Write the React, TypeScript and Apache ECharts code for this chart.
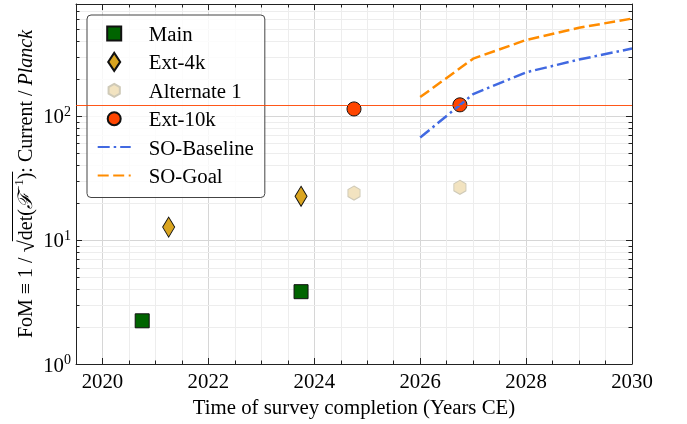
import React, { useEffect, useRef } from 'react';
import * as echarts from 'echarts';

// ---- data ----
const mainYears = [2020.75, 2023.75];
const mainFoM = [2.23, 3.83];
const ext4kYears = [2021.25, 2023.75];
const ext4kFoM = [12.7, 22.5];
const alt1Years = [2024.75, 2026.75];
const alt1FoM = [23.9, 26.6];
const ext10kYears = [2024.75, 2026.75];
const ext10kFoM = [114, 123];
const soYears = [2026, 2027, 2028, 2029, 2030];
const soBaseline = [67, 150, 225, 285, 350];
const soGoal = [142, 290, 410, 515, 610];
const referenceLevel = 123;
const xTickYears = [2020, 2022, 2024, 2026, 2028, 2030];
const yMinorTicks = [2, 3, 4, 5, 6, 7, 8, 9, 20, 30, 40, 50, 60, 70, 80, 90, 200, 300, 400, 500, 600, 700];
const seriesNames = ['Main', 'Ext-4k', 'Alternate 1', 'Ext-10k', 'SO-Baseline', 'SO-Goal'];

const FONT = 'Liberation Serif';
const FS = 20.8;
const X_MIN = 2019.5;
const X_MAX = 2030;
const Y_MIN = 1;
const Y_MAX = 800;

const zip = (xs: number[], ys: number[]) => xs.map((x, i) => [x, ys[i]]);

const hexPath = 'path://M0,-1L0.866,-0.5L0.866,0.5L0,1L-0.866,0.5L-0.866,-0.5Z';
const legendSquare = 'path://M0,0M33,18M9.5,2L23.5,2L23.5,16L9.5,16Z';
const legendDiamond = 'path://M0,0M33,18M16.5,0L22.5,9L16.5,18L10.5,9Z';
const legendHex = 'path://M0,0M33,18M16.5,2.5L22.13,5.75L22.13,12.25L16.5,15.5L10.87,12.25L10.87,5.75Z';
const legendCircle = 'path://M0,0M33,18M10,9A6.5,6.5,0,1,1,23,9A6.5,6.5,0,1,1,10,9Z';

function buildTitle() {
  const canvas = document.createElement('canvas');
  const ctx = canvas.getContext('2d') as CanvasRenderingContext2D;
  const pieces = [
    { t: 'FoM ≡ 1 / ', s: 20, it: false, dy: 0, ob: false },
    { t: '√', s: 22, it: false, dy: 1, ob: false },
    { t: 'det(', s: 20, it: false, dy: 0, ob: true },
    { t: 'ℱ', s: 20, it: true, dy: 0, ob: true },
    { t: '−1', s: 13, it: false, dy: -7, ob: true },
    { t: ')', s: 20, it: false, dy: 0, ob: true },
    { t: ': Current / ', s: 20, it: false, dy: 0, ob: false },
    { t: 'Planck', s: 20, it: true, dy: 0, ob: false },
  ];
  const widths = pieces.map((p) => {
    ctx.font = `${p.it ? 'italic ' : ''}${p.s}px "${FONT}"`;
    return ctx.measureText(p.t).width;
  });
  const total = widths.reduce((a, b) => a + b, 0);
  let cur = -total / 2;
  const children: any[] = [];
  let obStart = Infinity;
  let obEnd = -Infinity;
  pieces.forEach((p, i) => {
    children.push({
      type: 'text',
      x: cur,
      y: p.dy,
      style: {
        text: p.t,
        fontSize: p.s,
        fontFamily: FONT,
        fontStyle: p.it ? 'italic' : 'normal',
        fill: '#000',
        align: 'left',
        verticalAlign: 'middle',
      },
    });
    if (p.ob) {
      obStart = Math.min(obStart, cur);
      obEnd = Math.max(obEnd, cur + widths[i]);
    }
    cur += widths[i];
  });
  children.push({
    type: 'line',
    shape: { x1: obStart - 1, y1: -12.5, x2: obEnd + 1, y2: -12.5 },
    style: { stroke: '#000', lineWidth: 1 },
  });
  return { type: 'group', x: 25, y: 184, rotation: Math.PI / 2, children };
}

export default function App() {
  const ref = useRef<HTMLDivElement>(null);
  useEffect(() => {
    if (!ref.current) return;
    const chart = echarts.init(ref.current, undefined, { renderer: 'svg' });
    const axisLine = { show: true, onZero: false, lineStyle: { color: '#222', width: 1 } };
    const tick = { show: true, inside: true, length: 6, lineStyle: { color: '#222', width: 1 } };
    const minorTick = { show: true, splitNumber: 4, length: 3.5, lineStyle: { color: '#222', width: 1 } };
    const hiddenSymbol = { opacity: 0, borderWidth: 0 };
    const option: any = {
      animation: false,
      textStyle: { fontFamily: FONT },
      grid: { left: 76, right: 55, top: 4, bottom: 60, containLabel: false },
      xAxis: [
        {
          type: 'value', min: X_MIN, max: X_MAX, splitNumber: 5, position: 'bottom',
          axisLine, axisTick: tick, minorTick,
          splitLine: { show: true, lineStyle: { color: '#d6d6d6', width: 1 } },
          minorSplitLine: { show: true, lineStyle: { color: '#ededed', width: 1 } },
          axisLabel: {
            fontSize: FS, color: '#000', fontFamily: FONT, margin: 6,
            formatter: (v: number) => (xTickYears.indexOf(v) >= 0 ? String(v) : ''),
          },
          name: 'Time of survey completion (Years CE)', nameLocation: 'middle', nameGap: 32,
          nameTextStyle: { fontSize: FS, color: '#000', fontFamily: FONT },
        },
        {
          type: 'value', min: X_MIN, max: X_MAX, splitNumber: 5, position: 'top',
          axisLine, axisTick: tick, minorTick,
          splitLine: { show: false }, axisLabel: { show: false },
        },
      ],
      yAxis: [
        {
          type: 'log', logBase: 10, min: Y_MIN, max: Y_MAX, position: 'left',
          axisLine, axisTick: tick,
          splitLine: { show: true, lineStyle: { color: '#d6d6d6', width: 1 } },
          axisLabel: {
            color: '#000', fontSize: FS, fontFamily: FONT, margin: 5,
            formatter: (v: number) => {
              const e = Math.log10(v);
              if (Math.abs(e - Math.round(e)) > 1e-6) return '';
              return `10{sup|${Math.round(e)}}`;
            },
            rich: {
              sup: { fontSize: 14, fontFamily: FONT, color: '#000', verticalAlign: 'bottom', padding: [0, 0, 9, 0] },
            },
          },
        },
        {
          type: 'log', logBase: 10, min: Y_MIN, max: Y_MAX, position: 'right',
          axisLine, axisTick: tick, splitLine: { show: false }, axisLabel: { show: false },
        },
      ],
      legend: {
        orient: 'vertical', left: 87, top: 15,
        padding: [8, 11, 11.5, 9.7],
        itemWidth: 33, itemHeight: 18, itemGap: 7.4,
        backgroundColor: 'rgba(255,255,255,0.8)', borderColor: '#444', borderWidth: 1, borderRadius: 4,
        selectedMode: false,
        textStyle: { fontSize: FS, color: '#000', fontFamily: FONT, rich: { g: { width: 13 } } },
        formatter: (name: string) => `{g| }${name}`,
        data: [
          { name: seriesNames[0], icon: legendSquare },
          { name: seriesNames[1], icon: legendDiamond },
          { name: seriesNames[2], icon: legendHex },
          { name: seriesNames[3], icon: legendCircle },
          { name: seriesNames[4], itemStyle: hiddenSymbol },
          { name: seriesNames[5], itemStyle: hiddenSymbol },
        ],
      },
      graphic: [buildTitle()],
      series: [
        {
          type: 'custom', silent: true, z: 1, xAxisIndex: 0, yAxisIndex: 0,
          data: yMinorTicks.map((v) => [X_MIN, v]),
          encode: { x: 0, y: 1 },
          renderItem: (params: any, api: any) => {
            const cs = params.coordSys;
            const p = api.coord([api.value(0), api.value(1)]);
            const y = Math.round(p[1]) + 0.5;
            return {
              type: 'group',
              children: [
                { type: 'line', shape: { x1: cs.x, y1: y, x2: cs.x + cs.width, y2: y }, style: { stroke: '#ededed', lineWidth: 1 } },
                { type: 'line', shape: { x1: cs.x, y1: y, x2: cs.x + 3.5, y2: y }, style: { stroke: '#222', lineWidth: 1 } },
                { type: 'line', shape: { x1: cs.x + cs.width - 3.5, y1: y, x2: cs.x + cs.width, y2: y }, style: { stroke: '#222', lineWidth: 1 } },
              ],
            };
          },
        },
        {
          name: seriesNames[0], type: 'scatter', data: zip(mainYears, mainFoM),
          symbol: 'rect', symbolSize: 14,
          itemStyle: { color: '#006400', borderColor: '#111', borderWidth: 1, opacity: 1 },
        },
        {
          name: seriesNames[1], type: 'scatter', data: zip(ext4kYears, ext4kFoM),
          symbol: 'diamond', symbolSize: [12, 20],
          itemStyle: { color: '#DAA520', borderColor: '#111', borderWidth: 1, opacity: 1 },
        },
        {
          name: seriesNames[2], type: 'scatter', data: zip(alt1Years, alt1FoM),
          symbol: hexPath, symbolSize: [12.1, 14],
          itemStyle: { color: '#F2E3C0', borderColor: '#CFCAB8', borderWidth: 1, opacity: 1 },
        },
        {
          name: seriesNames[3], type: 'scatter', data: zip(ext10kYears, ext10kFoM),
          symbol: 'circle', symbolSize: 14,
          itemStyle: { color: '#FF4500', borderColor: '#111', borderWidth: 1, opacity: 1 },
          markLine: {
            silent: true, symbol: ['none', 'none'], label: { show: false },
            lineStyle: { color: '#FF4500', width: 1, type: 'solid', opacity: 0.9 },
            data: [{ yAxis: referenceLevel }],
          },
        },
        {
          name: seriesNames[4], type: 'line', data: zip(soYears, soBaseline),
          symbol: 'none', showSymbol: false,
          lineStyle: { color: '#4169E1', width: 2.5, type: [12, 4, 2.5, 4] },
          itemStyle: { color: '#4169E1' },
        },
        {
          name: seriesNames[5], type: 'line', data: zip(soYears, soGoal),
          symbol: 'none', showSymbol: false,
          lineStyle: { color: '#FF8C00', width: 2.5, type: [11, 4.5] },
          itemStyle: { color: '#FF8C00' },
        },
      ],
    };
    chart.setOption(option);
    return () => chart.dispose();
  }, []);
  return <div ref={ref} style={{ position: 'fixed', left: 0, top: 0, width: 687, height: 424 }} />;
}
